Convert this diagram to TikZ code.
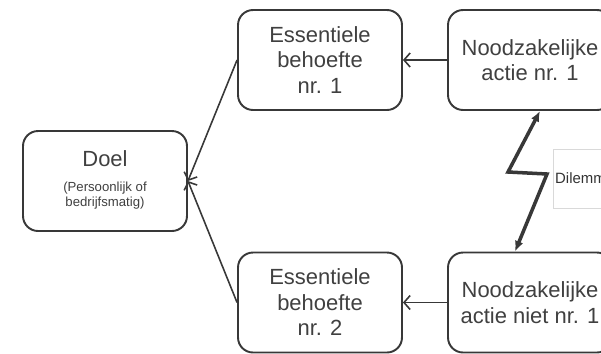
\documentclass[tikz,border=0pt]{standalone}
\usepackage{fontspec}
\setmainfont{Liberation Sans}
\usetikzlibrary{arrows.meta,calc}
\colorlet{linegray}{black!78}
\colorlet{textgray}{black!75}
\tikzset{
  stapbox/.style = {
    draw=linegray, line width=1.1pt, rounded corners=0.3cm,
    minimum width=3.28cm, minimum height=2cm,
    align=center, text=textgray,
    font=\fontsize{12.5}{14.5}\selectfont
  },
  dilemmabox/.style = {
    draw=black!15, line width=0.5pt, anchor=west,
    minimum height=1.18cm, text width=2cm, inner xsep=1pt,
    align=left, text=black!80, font=\fontsize{8.5}{10}\selectfont
  },
  pijl/.style = {
    draw=linegray, line width=0.9pt,
    -{Straight Barb[length=3.5pt,width=8pt]}
  },
  bliksem/.style = {
    draw=linegray, line width=2pt, line join=miter,
    {Latex[length=6pt,width=5pt]}-{Latex[length=6pt,width=5pt]}
  }
}

\begin{document}
\begin{tikzpicture}[x=0.02cm,y=-0.02cm]
  \useasboundingbox (0,0) rectangle (601,353);
  \node[stapbox] (doel) at (105,181)
    {Doel\\[4pt]{\fontsize{7.5}{9}\selectfont
      \begin{tabular}{@{}c@{}}(Persoonlijk of\\bedrijfsmatig)\end{tabular}}};
  \node[stapbox] (ess1) at (320,60) {Essentiele\\behoefte\\nr. 1};
  \node[stapbox] (ess2) at (320,302.5) {Essentiele\\behoefte\\nr. 2};
  \node[stapbox] (nood1) at (530,60) {Noodzakelijke\\actie nr. 1};
  \node[stapbox] (nood2) at (530,302.5) {Noodzakelijke\\actie niet nr. 1};
  \node[dilemmabox] (dilemma) at (553,178.5) {Dilemma};
  \coordinate (zig1) at (508,172);
  \coordinate (zig2) at (547,174);
  \draw[pijl] (nood1) -- (ess1);
  \draw[pijl] (nood2) -- (ess2);
  \draw[pijl] (ess1.west) -- (doel.east);
  \draw[pijl] (ess2.west) -- (doel.east);
  \draw[bliksem] ($(nood1.south)+(10,0)$) -- (zig1) -- (zig2) -- ($(nood2.north)+(-15,0)$);
\end{tikzpicture}
\end{document}
